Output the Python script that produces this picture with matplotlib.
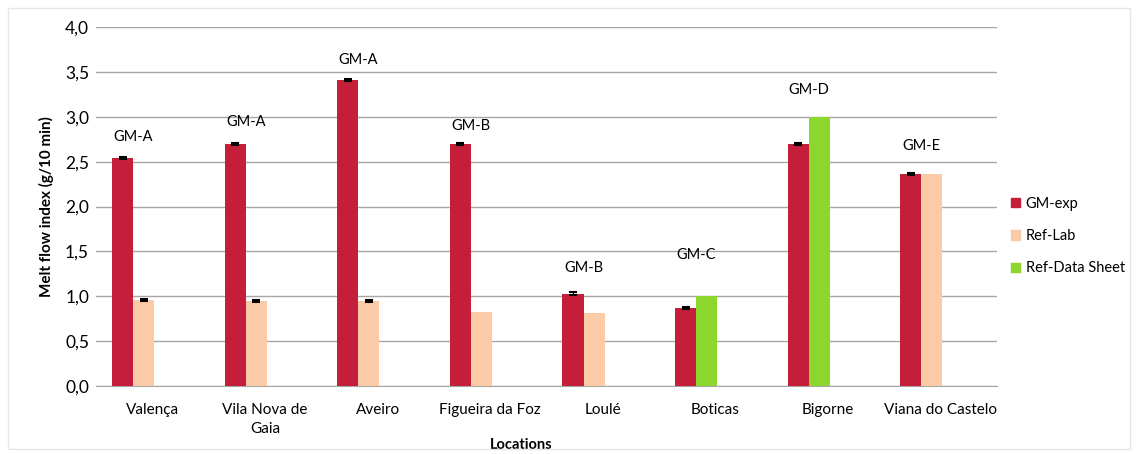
import numpy as np
import matplotlib.pyplot as plt
from matplotlib.patches import Rectangle
from matplotlib.patches import Patch

plt.rcParams['font.family'] = ['Lato', 'DejaVu Sans']

# datos
locations = ['Valença', 'Vila Nova de\nGaia', 'Aveiro', 'Figueira da Foz', 'Loulé',
             'Boticas', 'Bigorne', 'Viana do Castelo']
gm_exp = [2.54, 2.70, 3.41, 2.70, 1.03, 0.87, 2.70, 2.36]
gm_exp_err = [0.01, 0.01, 0.015, 0.01, 0.02, 0.01, 0.01, 0.01]
ref_val = [0.96, 0.95, 0.95, 0.82, 0.81, 1.00, 3.00, 2.36]
ref_err = [0.01, 0.012, 0.012, 0, 0, 0, 0, 0]
ref_type = ['Ref-Lab', 'Ref-Lab', 'Ref-Lab', 'Ref-Lab', 'Ref-Lab',
            'Ref-Data Sheet', 'Ref-Data Sheet', 'Ref-Lab']
gm_labels = ['GM-A', 'GM-A', 'GM-A', 'GM-B', 'GM-B', 'GM-C', 'GM-D', 'GM-E']
label_pad = [0.23, 0.24, 0.22, 0.20, 0.28, 0.46, 0.30, 0.31]

colores = {'GM-exp': '#C41E3A', 'Ref-Lab': '#FBCBA8', 'Ref-Data Sheet': '#8DD62E'}

fig = plt.figure(figsize=(11.38, 4.54), dpi=100)
ax = fig.add_axes([0.0844, 0.1498, 0.7917, 0.7907])

x = np.arange(len(locations))
w = 0.187
ax.bar(x - 0.265, gm_exp, w, color=colores['GM-exp'], zorder=3)
ax.errorbar(x - 0.265, gm_exp, yerr=gm_exp_err, fmt='none', ecolor='black',
            capsize=3, elinewidth=1, capthick=1.5, zorder=4)
ax.bar(x - 0.078, ref_val, w, color=[colores[t] for t in ref_type], zorder=3)
err_idx = [i for i in range(len(ref_err)) if ref_err[i] > 0]
ax.errorbar(x[err_idx] - 0.078, [ref_val[i] for i in err_idx],
            yerr=[ref_err[i] for i in err_idx], fmt='none', ecolor='black',
            capsize=3, elinewidth=1, capthick=1.5, zorder=4)

# etiquetas GM encima de cada grupo
for i in range(len(locations)):
    top = max(gm_exp[i], ref_val[i])
    ax.text(x[i] - 0.17, top + label_pad[i], gm_labels[i], ha='center', va='center',
            fontsize=10.5)

ax.set_xlim(-0.5, len(locations) - 0.5)
ax.set_ylim(0, 4.0)
ax.set_yticks(np.arange(0, 4.01, 0.5))
ax.set_yticklabels([('%.1f' % v).replace('.', ',') for v in np.arange(0, 4.01, 0.5)],
                   fontsize=12.5)
ax.set_xticks(x)
ax.set_xticklabels(locations, fontsize=11, linespacing=1.45)
ax.tick_params(axis='y', length=0, pad=5)
ax.tick_params(axis='x', length=0, pad=12)
ax.grid(axis='y', color='#A6A6A6', linewidth=1, zorder=0)
for s in ['top', 'right', 'left']:
    ax.spines[s].set_visible(False)
ax.spines['bottom'].set_color('#A6A6A6')

ax.set_ylabel('Melt flow index (g/10 min)', fontsize=11, fontweight='bold', labelpad=8)
ax.set_xlabel('Locations', fontsize=10.5, fontweight='bold', va='center')
ax.xaxis.set_label_coords(0.472, -0.164)

handles = [Patch(color=colores[k]) for k in ['GM-exp', 'Ref-Lab', 'Ref-Data Sheet']]
fig.legend(handles, ['GM-exp', 'Ref-Lab', 'Ref-Data Sheet'], loc='center left',
           bbox_to_anchor=(0.877, 0.48), frameon=False, fontsize=10.5,
           handlelength=0.6, handleheight=0.6, handletextpad=0.4, labelspacing=1.25)

fig.patches.append(Rectangle((0.007, 0.012), 0.986, 0.97, transform=fig.transFigure,
                             fill=False, edgecolor='#E6E6E6', linewidth=1))

plt.savefig('out.png', dpi=100)
